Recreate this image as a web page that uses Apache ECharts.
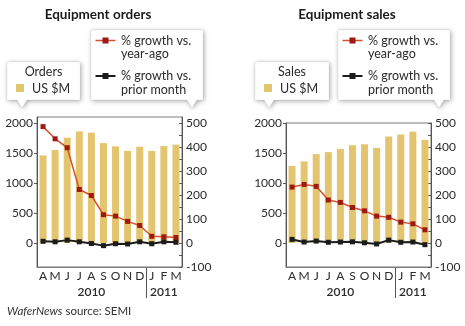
<!DOCTYPE html>
<html>
<head>
<meta charset="utf-8">
<script src="https://cdn.jsdelivr.net/npm/echarts@6/dist/echarts.min.js"></script>
<style>
  html, body { margin: 0; padding: 0; background: #fff; }
  #chart { width: 465px; height: 326px; }
</style>
</head>
<body>
<div id="chart"></div>
<script>
// Month labels (Apr 2010 – Mar 2011) and year labels under them
var months = ['A', 'M', 'J', 'J', 'A', 'S', 'O', 'N', 'D', 'J', 'F', 'M'];
var years = ['', '', '', '', '2010', '', '', '', '', '', '2011', ''];

// Equipment orders, US $M
var orders = [1460, 1550, 1755, 1860, 1840, 1665, 1610, 1535, 1605, 1535, 1615, 1640];
var ordersYoY = [485, 434, 397, 223, 198, 118, 112, 90, 73, 28, 26, 23];
var ordersMoM = [7, 5, 12, 5, -2, -11, -3, -4, 5, -3, 5, 3];

// Equipment sales, US $M
var sales = [1285, 1360, 1480, 1515, 1570, 1630, 1645, 1585, 1775, 1810, 1855, 1720];
var salesYoY = [233, 244, 236, 179, 169, 148, 134, 112, 107, 87, 80, 55];
var salesMoM = [15, 4, 8, 3, 4, 5, 1, -4, 12, 3, 4, -7];

var FONT = 'Lato, "Open Sans", sans-serif';
var TXT = '#2b2b2b';
var FRAME = '#7a7a7a';
var GOLD = '#e3c46f';
var RED_LINE = '#d4512c';
var RED_MARK = '#9b1b14';
var BLACK = '#1c1c1c';

var chart = echarts.init(document.getElementById('chart'), null, { renderer: 'canvas' });

function monthAxis(grid) {
  return {
    type: 'category', gridIndex: grid, data: months, position: 'bottom',
    axisLine: { show: true, onZero: false, lineStyle: { color: FRAME, width: 1 } },
    axisTick: { show: false },
    axisLabel: { interval: 0, margin: 3, fontFamily: FONT, fontSize: 12, color: TXT }
  };
}
function yearAxis(grid) {
  return {
    type: 'category', gridIndex: grid, data: years, position: 'bottom',
    axisLine: { show: false }, axisTick: { show: false },
    axisLabel: { interval: 0, margin: 19, fontFamily: FONT, fontSize: 12, fontWeight: 600, color: TXT }
  };
}
function leftAxis(grid, max) {
  return {
    type: 'value', gridIndex: grid, position: 'left', min: -400, max: max, splitNumber: 5,
    splitLine: { show: false },
    axisLine: { show: true, lineStyle: { color: '#555', width: 1 } },
    axisTick: { show: true, length: 3, inside: false, lineStyle: { color: '#555' } },
    axisLabel: {
      showMinLabel: false, showMaxLabel: max === 2000, margin: 4,
      fontFamily: FONT, fontSize: 12, color: TXT,
      formatter: function (v) { return (v >= 0 && v <= 2000 && v % 500 === 0) ? String(v) : ''; }
    }
  };
}
function rightAxis(grid, max) {
  return {
    type: 'value', gridIndex: grid, position: 'right', min: -100, max: max, interval: 50,
    splitLine: { show: false },
    axisLine: { show: true, lineStyle: { color: '#555', width: 1 } },
    axisTick: { show: true, length: 3, inside: true, lineStyle: { color: '#555' } },
    axisLabel: {
      showMaxLabel: max === 500, margin: 4,
      fontFamily: FONT, fontSize: 12, color: TXT,
      formatter: function (v) { return (v % 100 === 0 && v <= 500) ? String(v) : ''; }
    }
  };
}
function barSeries(x, y, data) {
  return {
    type: 'bar', xAxisIndex: x, yAxisIndex: y, data: data, barWidth: 7,
    itemStyle: { color: GOLD }, silent: true, animation: false, z: 1
  };
}
function lineSeries(x, y, data, lineColor, markColor, width) {
  return {
    type: 'line', xAxisIndex: x, yAxisIndex: y, data: data,
    symbol: 'rect', symbolSize: 5, showSymbol: true,
    lineStyle: { color: lineColor, width: width },
    itemStyle: { color: markColor, borderWidth: 0 },
    silent: true, animation: false, z: 3
  };
}

// Callout box with a pointer at the bottom edge
function callout(x0, y0, x1, y1, tipX) {
  return {
    type: 'polygon', silent: true, z: 10,
    shape: { points: [[x0, y0], [x1, y0], [x1, y1], [tipX + 5, y1], [tipX, y1 + 8], [tipX - 5, y1], [x0, y1]] },
    style: { fill: '#fff', stroke: 'rgba(0,0,0,0.06)', lineWidth: 1,
             shadowBlur: 5, shadowColor: 'rgba(0,0,0,0.35)', shadowOffsetX: 1, shadowOffsetY: 1 }
  };
}
function txt(x, y, s, opt) {
  return {
    type: 'text', x: x, y: y, silent: true, z: 12,
    style: Object.assign({ text: s, fill: TXT, font: '12.5px ' + FONT, textVerticalAlign: 'middle' }, opt || {})
  };
}
function legendLine(x, y, lineColor, markColor, width) {
  return [
    { type: 'line', silent: true, z: 12, shape: { x1: x, y1: y, x2: x + 20, y2: y },
      style: { stroke: lineColor, lineWidth: width } },
    { type: 'rect', silent: true, z: 13, shape: { x: x + 7, y: y - 3, width: 6, height: 6 },
      style: { fill: markColor } }
  ];
}
function panelGraphics(boxLabel, boxX0, boxX1, boxTip, lineX0, lineTip, title, titleX) {
  var g = [];
  g.push(txt(titleX, 15, title, { font: 'bold 13.5px ' + FONT, fill: '#1a1a1a', textAlign: 'center' }));
  g.push(callout(boxX0, 62, boxX1, 100, boxTip));
  g.push(txt((boxX0 + boxX1) / 2, 72, boxLabel, { textAlign: 'center' }));
  g.push({ type: 'rect', silent: true, z: 12, shape: { x: boxX0 + 9, y: 84, width: 8, height: 8 }, style: { fill: GOLD } });
  g.push(txt(boxX0 + 25, 88.5, 'US $M'));
  g.push(callout(lineX0, 30, lineX0 + 112, 100, lineTip));
  g = g.concat(legendLine(lineX0 + 4.5, 40.5, RED_LINE, RED_MARK, 1.5));
  g.push(txt(lineX0 + 30, 40.5, '% growth vs.'));
  g.push(txt(lineX0 + 30, 53.5, 'year-ago'));
  g = g.concat(legendLine(lineX0 + 4.5, 76, BLACK, BLACK, 2));
  g.push(txt(lineX0 + 30, 76, '% growth vs.'));
  g.push(txt(lineX0 + 30, 89.5, 'prior month'));
  return g;
}

var graphics = []
  .concat(panelGraphics('Orders', 7, 80, 22, 91, 192, 'Equipment orders', 98))
  .concat(panelGraphics('Sales', 255, 329, 269, 338, 439, 'Equipment sales', 347));
graphics.push({
  type: 'text', x: 7, y: 311.5, silent: true,
  style: {
    text: '{i|WaferNews} source: SEMI', fill: '#333', font: '11.5px ' + FONT, textVerticalAlign: 'middle',
    rich: { i: { fontStyle: 'italic', fontFamily: FONT, fontSize: 11.5, fill: '#333' } }
  }
});

chart.setOption({
  animation: false,
  grid: [
    { left: 37, top: 117, width: 145, height: 150, show: true, borderColor: FRAME, borderWidth: 1, backgroundColor: 'transparent' },
    { left: 286, top: 123, width: 145, height: 144, show: true, borderColor: FRAME, borderWidth: 1, backgroundColor: 'transparent' }
  ],
  xAxis: [monthAxis(0), yearAxis(0), monthAxis(1), yearAxis(1)],
  yAxis: [leftAxis(0, 2100), rightAxis(0, 525), leftAxis(1, 2000), rightAxis(1, 500)],
  series: [
    barSeries(0, 0, orders),
    lineSeries(0, 1, ordersYoY, RED_LINE, RED_MARK, 1.5),
    lineSeries(0, 1, ordersMoM, BLACK, BLACK, 2),
    barSeries(2, 2, sales),
    lineSeries(2, 3, salesYoY, RED_LINE, RED_MARK, 1.5),
    lineSeries(2, 3, salesMoM, BLACK, BLACK, 2)
  ],
  graphic: graphics
});

// Year separators between December and January, placed from the axis scale
function yearSeparator(xAxisIndex, yAxisIndex, yMin) {
  var pD = chart.convertToPixel({ xAxisIndex: xAxisIndex }, 8);
  var pJ = chart.convertToPixel({ xAxisIndex: xAxisIndex }, 9);
  var x = Math.round((pD + pJ) / 2) + 0.5;
  var yBottom = chart.convertToPixel({ yAxisIndex: yAxisIndex }, yMin);
  return { type: 'line', silent: true, shape: { x1: x, y1: yBottom, x2: x, y2: yBottom + 31 },
           style: { stroke: '#555', lineWidth: 1 } };
}
graphics.push(yearSeparator(0, 0, -400));
graphics.push(yearSeparator(2, 2, -400));
chart.setOption({ graphic: graphics });
</script>
</body>
</html>
